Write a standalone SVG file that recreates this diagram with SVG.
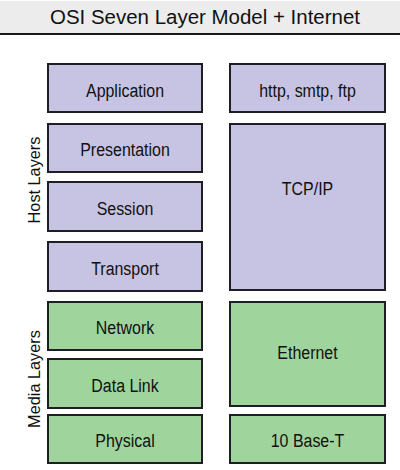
<svg xmlns="http://www.w3.org/2000/svg" width="400" height="470" viewBox="0 0 400 470">
<style>
.host{fill:#c7c3e2;stroke:#1e1e24;stroke-width:2}
.media{fill:#a0d49d;stroke:#1e1e24;stroke-width:2}
.lbl{font-family:"Liberation Sans",Arial,sans-serif;font-size:19px;fill:#111;text-anchor:middle}
.side{font-family:"Liberation Sans",Arial,sans-serif;font-size:16.3px;fill:#111;text-anchor:middle}
.title{font-family:"Liberation Sans",Arial,sans-serif;font-size:20px;fill:#111;text-anchor:middle}
</style>
<rect x="0" y="0" width="400" height="470" fill="#ffffff"/>
<g id="header">
<rect x="0" y="1" width="400" height="32" fill="#ececec"/>
<line x1="0" y1="34" x2="400" y2="34" stroke="#1a1a1a" stroke-width="2"/>
<text class="title" x="205" y="24" textLength="310" lengthAdjust="spacingAndGlyphs">OSI Seven Layer Model + Internet</text>
</g>
<g id="host-layers-label"><text class="side" transform="translate(40,180) rotate(-90)">Host Layers</text></g>
<g id="media-layers-label"><text class="side" transform="translate(40,379) rotate(-90)">Media Layers</text></g>
<g id="application"><rect class="host" x="48" y="64" width="154" height="48"/><g transform="translate(125,96.5) scale(0.84,1)"><text class="lbl" x="0" y="0">Application</text></g></g>
<g id="presentation"><rect class="host" x="48" y="124" width="154" height="48"/><g transform="translate(125,155.5) scale(0.84,1)"><text class="lbl" x="0" y="0">Presentation</text></g></g>
<g id="session"><rect class="host" x="48" y="182" width="154" height="49"/><g transform="translate(125,214.5) scale(0.84,1)"><text class="lbl" x="0" y="0">Session</text></g></g>
<g id="transport"><rect class="host" x="48" y="242" width="154" height="49"/><g transform="translate(125,274.5) scale(0.84,1)"><text class="lbl" x="0" y="0">Transport</text></g></g>
<g id="network"><rect class="media" x="48" y="302" width="154" height="48"/><g transform="translate(125,333.5) scale(0.84,1)"><text class="lbl" x="0" y="0">Network</text></g></g>
<g id="datalink"><rect class="media" x="48" y="359" width="154" height="49"/><g transform="translate(125,391.5) scale(0.84,1)"><text class="lbl" x="0" y="0">Data Link</text></g></g>
<g id="physical"><rect class="media" x="48" y="415" width="154" height="48"/><g transform="translate(125,446.5) scale(0.84,1)"><text class="lbl" x="0" y="0">Physical</text></g></g>
<g id="http"><rect class="host" x="230" y="64" width="155" height="48"/><g transform="translate(307.5,96.5) scale(0.84,1)"><text class="lbl" x="0" y="0">http, smtp, ftp</text></g></g>
<g id="tcpip"><rect class="host" x="230" y="124" width="155" height="166"/><g transform="translate(307.5,195) scale(0.84,1)"><text class="lbl" x="0" y="0">TCP/IP</text></g></g>
<g id="ethernet"><rect class="media" x="230" y="302" width="155" height="104"/><g transform="translate(307.5,359) scale(0.84,1)"><text class="lbl" x="0" y="0">Ethernet</text></g></g>
<g id="tenbaset"><rect class="media" x="230" y="415" width="155" height="48"/><g transform="translate(307.5,446.5) scale(0.84,1)"><text class="lbl" x="0" y="0">10 Base-T</text></g></g>
<g id="connectors"></g>
</svg>
